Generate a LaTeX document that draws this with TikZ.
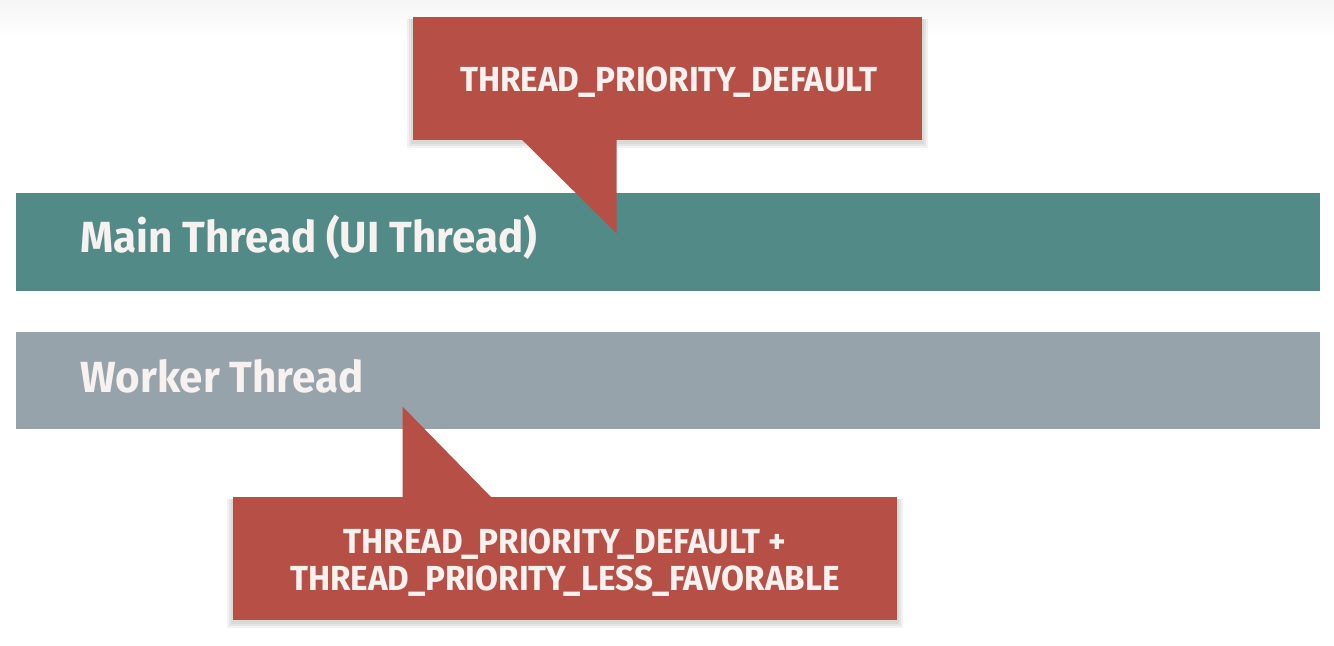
\documentclass[tikz,border=0pt]{standalone}
\usepackage{fontspec}
\setmainfont{Fira Sans}
\newfontfamily\barfont{Fira Sans}[FakeStretch=0.965]
\newfontfamily\calfont{Fira Sans}[FakeStretch=0.955]
\usetikzlibrary{calc}
\definecolor{calred}{HTML}{B65046}
\definecolor{mainteal}{HTML}{528A87}
\definecolor{workgray}{HTML}{97A3AA}
\definecolor{txtwhite}{HTML}{F7F2F0}
\definecolor{topstrip}{HTML}{F6F6F6}
\tikzset{
  bar/.style={draw=none, minimum width=652pt, minimum height=49pt, inner sep=0pt},
  barlabel/.style={anchor=base west, inner sep=0pt, text=txtwhite, font=\barfont\bfseries\fontsize{21.8pt}{24pt}\selectfont},
  callout/.style={fill=calred, draw=none, minimum height=61.5pt, inner sep=0pt},
  callabel/.style={anchor=base, inner sep=0pt, text=txtwhite, align=center, font=\calfont\bfseries\fontsize{17.4pt}{18.5pt}\selectfont},
  tail/.style={fill=calred, draw=none},
  softshadow/.style={fill=black, fill opacity=0.05, draw=none}
}
\begin{document}
\begin{tikzpicture}[x=0.5pt,y=-0.5pt]
\useasboundingbox (0,0) rectangle (1334,646);
\fill[white] (0,0) rectangle (1334,646);
\shade[top color=topstrip, bottom color=white] (0,0) rectangle (1334,40);
% bars
\node[bar, fill=mainteal] (main) at (668,242) {};
\node[bar, fill=workgray, minimum height=48.5pt] (worker) at (668,380.5) {};
\node[barlabel] (mainlbl) at (80,253) {Main Thread (UI Thread)};
\node[barlabel] (workerlbl) at (80,393) {Worker Thread};
% top callout
\foreach \d in {2,4,6}{
  \fill[softshadow] (413-\d,19) rectangle (922+\d,142+\d);
}
\node[callout, minimum width=254.5pt] (topcall) at (667.5,78.5) {};
\fill[tail] ($(topcall.south west)+(109,-1)$) -- ($(topcall.south west)+(204,-1)$) -- ($(topcall.south west)+(204,93)$) coordinate (toptip) -- cycle;
\node[callabel] (toplbl) at (669,92) {THREAD\_PRIORITY\_DEFAULT};
% bottom callout
\foreach \d in {2,4,6}{
  \fill[softshadow] (233-\d,499) rectangle (897+\d,622+\d);
}
\node[callout, minimum width=332pt] (botcall) at (565,558.5) {};
\fill[tail] ($(botcall.north west)+(170,1)$) -- ($(botcall.north west)+(170,-90)$) coordinate (bottip) -- ($(botcall.north west)+(259,1)$) -- cycle;
\node[callabel] (botlbl1) at (565,553) {THREAD\_PRIORITY\_DEFAULT +};
\node[callabel] (botlbl2) at (565,590) {THREAD\_PRIORITY\_LESS\_FAVORABLE};
\end{tikzpicture}
\end{document}
